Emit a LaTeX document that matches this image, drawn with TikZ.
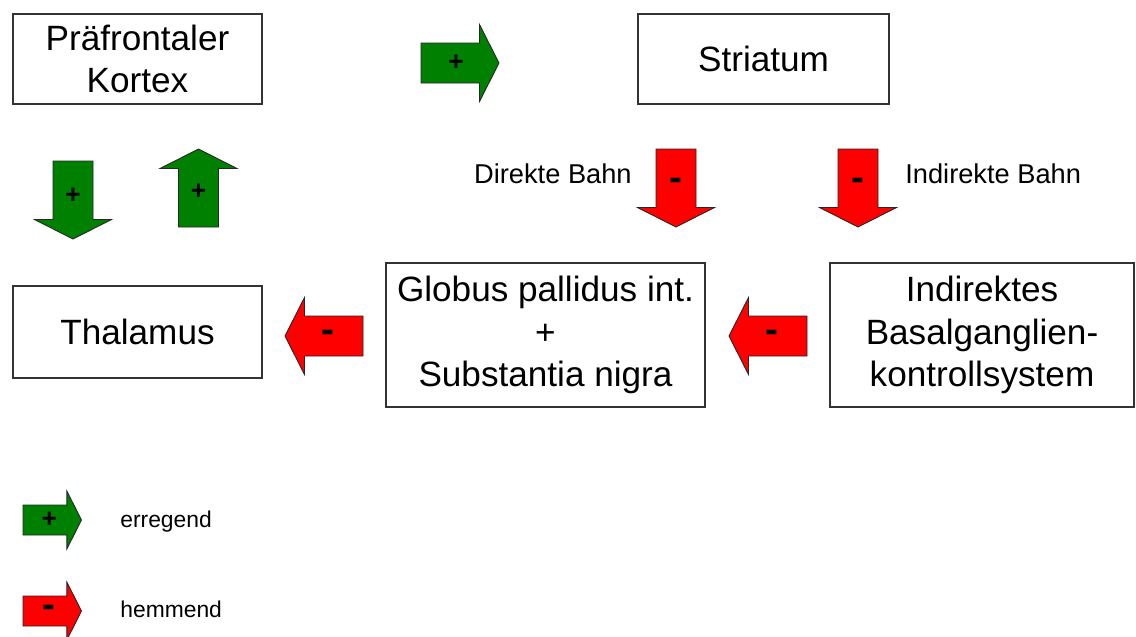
\documentclass[tikz,border=0pt]{standalone}
\usepackage{fontspec}
\setmainfont{Liberation Sans}
\usepackage{tikz}

\definecolor{excgreen}{RGB}{0,128,0}
\definecolor{inhred}{RGB}{255,0,0}

\tikzset{
	blockarrow/.pic={
		\draw[pic actions] (0,-0.4) -- (1.17,-0.4) -- (1.17,-0.77) -- (1.56,0) -- (1.17,0.77) -- (1.17,0.4) -- (0,0.4) -- cycle;
		\node[inner sep=0,outer sep=0,font=\bfseries\fontsize{15}{15}\selectfont] (-sign) at (0.7,0) {#1};
	}
}
\newcommand{\hemmsign}{{\fontsize{22}{22}\selectfont -}}

\begin{document}
\begin{tikzpicture}[
	box/.style={draw=black!80,line width=0.8pt,inner sep=0,outer sep=0,align=center,font=\fontsize{20}{24}\selectfont},
	exc/.style={fill=excgreen,draw=black!85,line width=0.5pt},
	inh/.style={fill=inhred,draw=black!85,line width=0.5pt},
	lbl/.style={inner sep=0,font=\fontsize{15.5}{18}\selectfont},
	leg/.style={inner sep=0,font=\fontsize{13}{15}\selectfont}]
	\useasboundingbox (0,0) rectangle (22.72,-12.72);
	\node[box,minimum width=4.98cm,minimum height=1.8cm] (pfc) at (2.75,-1.18) {Präfrontaler\\Kortex};
	\node[box,minimum width=5.02cm,minimum height=1.8cm] (str) at (15.27,-1.18) {Striatum};
	\node[box,minimum width=4.98cm,minimum height=1.84cm] (thal) at (2.75,-6.64) {Thalamus};
	\node[box,minimum width=6.38cm,minimum height=2.88cm] (gpi) at (10.91,-6.7) {Globus pallidus int.\\+\\Substantia nigra};
	\node[box,minimum width=6.08cm,minimum height=2.88cm] (ibk) at (19.64,-6.7) {Indirektes\\Basalganglien-\\kontrollsystem};
	\pic[exc] (pfcstr) at (8.42,-1.26) {blockarrow=+};
	\pic[exc,rotate=-90] (pfcthal) at (1.46,-3.22) {blockarrow=+};
	\pic[exc,rotate=90] (thalpfc) at (3.97,-4.54) {blockarrow=+};
	\pic[inh,rotate=-90] (direkt) at (13.52,-2.98) {blockarrow=\hemmsign};
	\pic[inh,rotate=-90] (indirekt) at (17.16,-2.98) {blockarrow=\hemmsign};
	\pic[inh,rotate=180] (gpithal) at (7.26,-6.72) {blockarrow=\hemmsign};
	\pic[inh,rotate=180] (ibkgpi) at (16.14,-6.72) {blockarrow=\hemmsign};
	\node[lbl,anchor=base east] (dlbl) at (12.64,-3.66) {Direkte Bahn};
	\node[lbl,anchor=base west] (ilbl) at (18.1,-3.66) {Indirekte Bahn};
	\pic[exc,scale=0.75] (legexc) at (0.46,-10.4) {blockarrow=+};
	\pic[inh,scale=0.75] (leginh) at (0.46,-12.22) {blockarrow=\hemmsign};
	\node[leg,anchor=base west] (exctxt) at (2.4,-10.54) {erregend};
	\node[leg,anchor=base west] (inhtxt) at (2.4,-12.34) {hemmend};
\end{tikzpicture}
\end{document}
